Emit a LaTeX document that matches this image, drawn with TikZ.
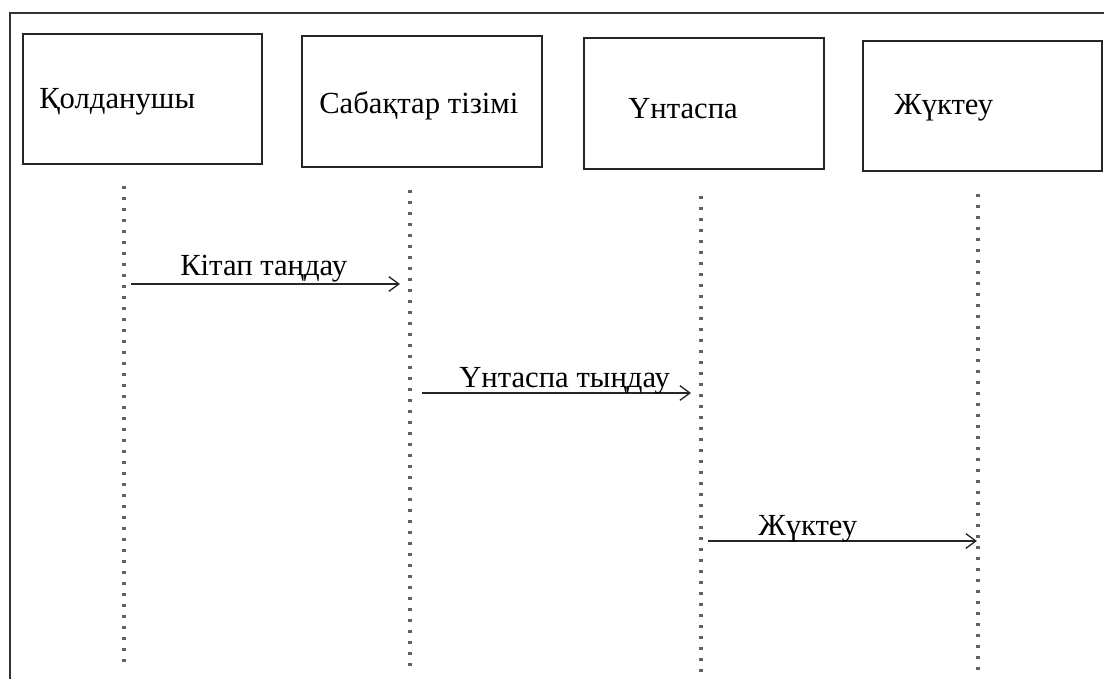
\documentclass[tikz,border=0pt]{standalone}
\usepackage{fontspec}
\setmainfont{Liberation Serif}
\usetikzlibrary{arrows.meta}
\begin{document}
\begin{tikzpicture}[x=0.75pt,y=-0.75pt,
  actor/.style={draw=black!85,line width=1.8pt,rectangle,inner sep=0pt},
  lbl/.style={anchor=base west,inner sep=0pt,font=\fontsize{23}{27}\selectfont},
  lifeline/.style={draw=black!62,line width=2.4pt,dash pattern=on 2.4pt off 5.85pt},
  msg/.style={draw=black!85,line width=1.3pt,-{Straight Barb[length=7.5pt,width=11pt,line width=1pt]}},
  frameline/.style={draw=black!80,line width=1.2pt}]
  \useasboundingbox (0,0) rectangle (1104,679);

  % outer frame (only top and left edges fall inside the page)
  \draw[frameline] (1104,13) -- (10,13) -- (10,679);

  % participants
  \node[actor,minimum width=179.25pt,minimum height=97.5pt]  (b1) at (142.5,99) {};
  \node[actor,minimum width=180pt,minimum height=98.25pt]    (b2) at (422,101.5) {};
  \node[actor,minimum width=180pt,minimum height=98.25pt]    (b3) at (704,103.5) {};
  \node[actor,minimum width=179.25pt,minimum height=97.5pt]  (b4) at (982.5,106) {};

  \node[lbl] (t1) at (39,108)  {Қолданушы};
  \node[lbl] (t2) at (319,113) {Сабақтар тізімі};
  \node[lbl] (t3) at (628,118) {Үнтаспа};
  \node[lbl] (t4) at (894,114) {Жүктеу};

  % lifelines
  \coordinate (l1a) at (124,186); \coordinate (l1b) at (124,666);
  \coordinate (l2a) at (410,190); \coordinate (l2b) at (410,668);
  \coordinate (l3a) at (701,196); \coordinate (l3b) at (701,676);
  \coordinate (l4a) at (978,194); \coordinate (l4b) at (978,672);
  \draw[lifeline] (l1a) -- (l1b);
  \draw[lifeline] (l2a) -- (l2b);
  \draw[lifeline] (l3a) -- (l3b);
  \draw[lifeline] (l4a) -- (l4b);

  % messages
  \coordinate (m1a) at (131,284); \coordinate (m1b) at (400,284);
  \coordinate (m2a) at (422,393); \coordinate (m2b) at (691,393);
  \coordinate (m3a) at (708,541); \coordinate (m3b) at (977,541);
  \draw[msg] (m1a) -- (m1b);
  \draw[msg] (m2a) -- (m2b);
  \draw[msg] (m3a) -- (m3b);

  \node[lbl] (k1) at (180,275) {Кітап таңдау};
  \node[lbl] (k2) at (459,387) {Үнтаспа тыңдау};
  \node[lbl] (k3) at (758,535) {Жүктеу};
\end{tikzpicture}
\end{document}
